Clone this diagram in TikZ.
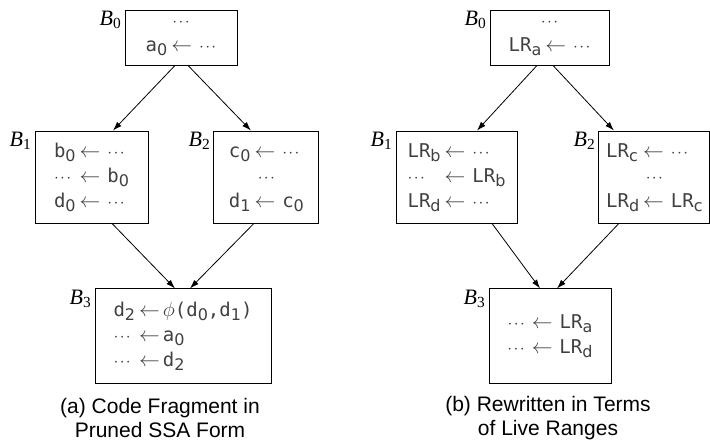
\documentclass[tikz,border=0pt]{standalone}
\usepackage{fontspec}
\setmainfont{Liberation Sans}
\setmonofont{DejaVu Sans Mono}
\newfontfamily\lblfont{Liberation Serif}
\newfontfamily\subfont{DejaVu Sans}
\usepackage{xcolor}
\usepackage{tikz}
\usetikzlibrary{arrows.meta,positioning}

\newcommand{\lo}[1]{\raisebox{-4pt}{\fontsize{16}{16}\subfont #1}}
\newcommand{\asg}{{\fontsize{22}{22}\selectfont$\leftarrow$}}
\newcommand{\dts}{\ensuremath{\cdotp\mkern-1.5mu\cdotp\mkern-1.5mu\cdotp}}
\newcommand{\blab}[1]{\textit{B}\textsubscript{#1}}

\begin{document}
\begin{tikzpicture}[
  x=1pt,y=1pt,
  node distance=65pt,
  blk/.style={draw,line width=0.9pt,inner sep=0pt,align=center,minimum height=92pt,
    font=\fontsize{19}{25}\selectfont\ttfamily,text=black!75},
  lbl/.style={anchor=north east,inner sep=1pt,xshift=-2pt,
    font=\fontsize{22}{26}\selectfont\lblfont},
  capt/.style={align=center,font=\fontsize{21}{24}\selectfont},
  arr/.style={-{Latex[length=9pt,width=6pt]},line width=0.8pt}
]
\useasboundingbox (0,0) rectangle (710,-447);

% (a) pruned SSA form
\node[blk,minimum width=112pt,minimum height=55pt] (a0) at (181,-37.5)
  {\dts\\a\lo{0}\hspace{4pt}\asg\hspace{7pt}\dts};
\node[blk,minimum width=113pt] (a1) at (91.5,-177)
  {\begin{tabular}{@{}l@{\hspace{4pt}}c@{\hspace{7pt}}l@{}}
   b\lo{0} & \asg & \dts\\
   \dts & \asg & b\lo{0}\\
   d\lo{0} & \asg & \dts
   \end{tabular}};
\node[blk,minimum width=105pt,right=of a1] (a2)
  {\begin{tabular}{@{}l@{\hspace{4pt}}c@{\hspace{7pt}}l@{}}
   c\lo{0} & \asg & \dts\\
   \multicolumn{3}{c}{\dts}\\
   d\lo{1} & \asg & c\lo{0}
   \end{tabular}};
\node[blk,minimum width=176pt,minimum height=95pt,below=of a1,xshift=91.5pt] (a3)
  {\begin{tabular}{@{}l@{\hspace{4pt}}c@{\hspace{3pt}}l@{}}
   d\lo{2} & \asg & {\fontsize{22}{22}\selectfont$\phi$}(d\lo{0},d\lo{1})\\
   \dts & \asg & a\lo{0}\\
   \dts & \asg & d\lo{2}
   \end{tabular}};

\node[lbl] (la0) at (a0.north west) {\blab{0}};
\node[lbl] (la1) at (a1.north west) {\blab{1}};
\node[lbl] (la2) at (a2.north west) {\blab{2}};
\node[lbl] (la3) at (a3.north west) {\blab{3}};

\draw[arr] ([xshift=-6pt]a0.south) -- ([xshift=21.5pt]a1.north);
\draw[arr] ([xshift=7pt]a0.south) -- ([xshift=-15.5pt]a2.north);
\draw[arr] ([xshift=20.5pt]a1.south) -- ([xshift=-8pt]a3.north);
\draw[arr] ([xshift=-12.5pt]a2.south) -- ([xshift=7pt]a3.north);

\node[capt] (capa) at (160,-418) {(a) Code Fragment in\\Pruned SSA Form};

% (b) live ranges
\node[blk,minimum width=119pt,minimum height=55pt] (b0) at (549.5,-37.5)
  {\dts\\LR\lo{a}\hspace{4pt}\asg\hspace{7pt}\dts};
\node[blk,minimum width=121pt] (b1) at (456.5,-177)
  {\begin{tabular}{@{}l@{\hspace{4pt}}c@{\hspace{7pt}}l@{}}
   LR\lo{b} & \asg & \dts\\
   \dts & \asg & LR\lo{b}\\
   LR\lo{d} & \asg & \dts
   \end{tabular}};
\node[blk,minimum width=111pt,right=81pt of b1] (b2)
  {\begin{tabular}{@{}l@{\hspace{4pt}}c@{\hspace{7pt}}l@{}}
   LR\lo{c} & \asg & \dts\\
   \multicolumn{3}{c}{\dts}\\
   LR\lo{d} & \asg & LR\lo{c}
   \end{tabular}};
\node[blk,minimum width=122pt,minimum height=95pt,below=of b1,xshift=93.5pt] (b3)
  {\dts\hspace{7pt}\asg\hspace{7pt}LR\lo{a}\\
   \dts\hspace{7pt}\asg\hspace{7pt}LR\lo{d}};

\node[lbl] (lb0) at (b0.north west) {\blab{0}};
\node[lbl] (lb1) at (b1.north west) {\blab{1}};
\node[lbl] (lb2) at (b2.north west) {\blab{2}};
\node[lbl] (lb3) at (b3.north west) {\blab{3}};

\draw[arr] ([xshift=-12.5pt]b0.south) -- ([xshift=20.5pt]b1.north);
\draw[arr] ([xshift=3.5pt]b0.south) -- ([xshift=-40.5pt]b2.north);
\draw[arr] ([xshift=35.5pt]b1.south) -- ([xshift=-10pt]b3.north);
\draw[arr] ([xshift=-35.5pt]b2.south) -- ([xshift=7pt]b3.north);

\node[capt] (capb) at (548,-418) {(b) Rewritten in Terms\\of Live Ranges};
\end{tikzpicture}
\end{document}
